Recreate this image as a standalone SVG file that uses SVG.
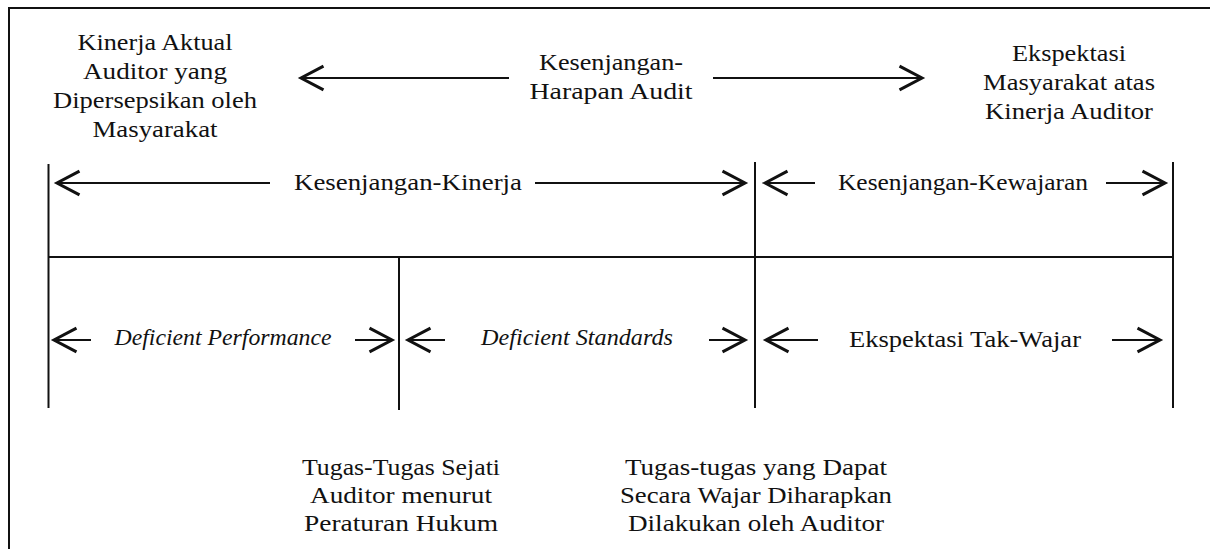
<svg xmlns="http://www.w3.org/2000/svg" width="1210" height="549" viewBox="0 0 1210 549">
<style>
text{font-family:"Liberation Serif","Times New Roman",serif;font-size:23px;fill:#111;text-anchor:middle}
.it{font-style:italic}
.ln{stroke:#111;stroke-width:2;fill:none}
.ar{stroke:#111;stroke-width:2.2;fill:none;marker-end:url(#head)}
</style>
<defs>
<marker id="head" markerUnits="userSpaceOnUse" markerWidth="30" markerHeight="30" refX="0" refY="0" viewBox="-20 -12 22 24" orient="auto" overflow="visible">
<path d="M-18,-9.5 L0,0 L-18,9.5" fill="none" stroke="#111" stroke-width="2.4" stroke-linejoin="miter"/>
</marker>
</defs>
<rect width="1210" height="549" fill="#fff"/>
<path class="ln" d="M9,560 V8 H1220" stroke-width="2.6"/>
<g id="connectors">
<path class="ln" d="M48.5,164 V408"/>
<path class="ln" d="M755,162 V408"/>
<path class="ln" d="M1173,162 V408"/>
<path class="ln" d="M399,257 V410"/>
<path class="ln" d="M48,257 H1173"/>
<path class="ar" d="M509,78 H301"/>
<path class="ar" d="M713,78 H922"/>
<path class="ar" d="M270,183 H57"/>
<path class="ar" d="M535,183 H745"/>
<path class="ar" d="M815,183 H765"/>
<path class="ar" d="M1106,183 H1165"/>
<path class="ar" d="M91,340 H54"/>
<path class="ar" d="M355,340 H392"/>
<path class="ar" d="M445,340 H408"/>
<path class="ar" d="M709,340 H745"/>
<path class="ar" d="M818,340 H766"/>
<path class="ar" d="M1112,340 H1160"/>
</g>
<g id="node-kinerja-aktual">
<text x="155" y="50" textLength="155" lengthAdjust="spacingAndGlyphs">Kinerja Aktual</text>
<text x="155" y="79" textLength="144" lengthAdjust="spacingAndGlyphs">Auditor yang</text>
<text x="155" y="108" textLength="204" lengthAdjust="spacingAndGlyphs">Dipersepsikan oleh</text>
<text x="155" y="137" textLength="125" lengthAdjust="spacingAndGlyphs">Masyarakat</text>
</g>
<g id="node-kesenjangan-harapan">
<text x="611" y="70" textLength="144" lengthAdjust="spacingAndGlyphs">Kesenjangan-</text>
<text x="611" y="99" textLength="163" lengthAdjust="spacingAndGlyphs">Harapan Audit</text>
</g>
<g id="node-ekspektasi-masyarakat">
<text x="1069" y="61" textLength="114" lengthAdjust="spacingAndGlyphs">Ekspektasi</text>
<text x="1069" y="90" textLength="172" lengthAdjust="spacingAndGlyphs">Masyarakat atas</text>
<text x="1069" y="119" textLength="168" lengthAdjust="spacingAndGlyphs">Kinerja Auditor</text>
</g>
<g id="node-kesenjangan-kinerja">
<text x="408" y="190" textLength="228" lengthAdjust="spacingAndGlyphs">Kesenjangan-Kinerja</text>
</g>
<g id="node-kesenjangan-kewajaran">
<text x="963" y="190" textLength="250" lengthAdjust="spacingAndGlyphs">Kesenjangan-Kewajaran</text>
</g>
<g id="node-deficient-performance">
<text class="it" x="223" y="345" textLength="217" lengthAdjust="spacingAndGlyphs">Deficient Performance</text>
</g>
<g id="node-deficient-standards">
<text class="it" x="577" y="345" textLength="192" lengthAdjust="spacingAndGlyphs">Deficient Standards</text>
</g>
<g id="node-ekspektasi-tak-wajar">
<text x="965" y="347" textLength="232" lengthAdjust="spacingAndGlyphs">Ekspektasi Tak-Wajar</text>
</g>
<g id="node-tugas-sejati">
<text x="401" y="475" textLength="198" lengthAdjust="spacingAndGlyphs">Tugas-Tugas Sejati</text>
<text x="401" y="503" textLength="182" lengthAdjust="spacingAndGlyphs">Auditor menurut</text>
<text x="401" y="531" textLength="194" lengthAdjust="spacingAndGlyphs">Peraturan Hukum</text>
</g>
<g id="node-tugas-wajar">
<text x="756" y="475" textLength="262" lengthAdjust="spacingAndGlyphs">Tugas-tugas yang Dapat</text>
<text x="756" y="503" textLength="272" lengthAdjust="spacingAndGlyphs">Secara Wajar Diharapkan</text>
<text x="756" y="531" textLength="256" lengthAdjust="spacingAndGlyphs">Dilakukan oleh Auditor</text>
</g>
</svg>
